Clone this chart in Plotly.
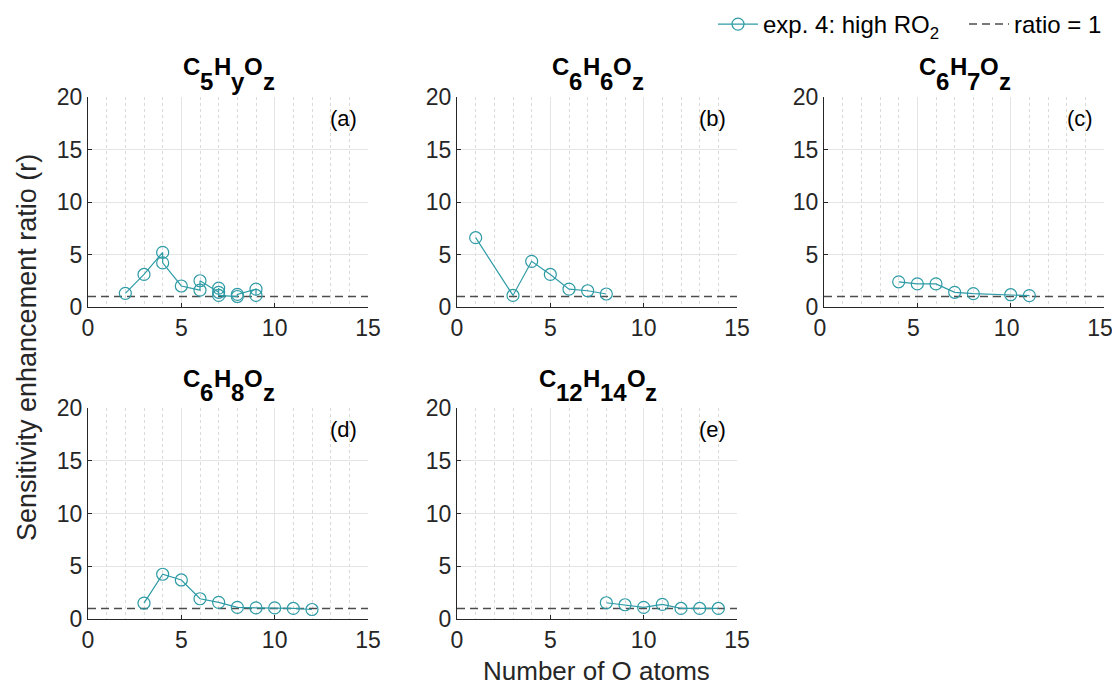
import plotly.graph_objects as go

# ---------------- data ----------------
title_parts = [("C", "5", "H", "y", "O", "z"), ("C", "6", "H", "6", "O", "z"),
               ("C", "6", "H", "7", "O", "z"), ("C", "6", "H", "8", "O", "z"),
               ("C", "12", "H", "14", "O", "z")]
panel_labels = ["(a)", "(b)", "(c)", "(d)", "(e)"]

a_x = [2, 3, 4, 4, 5, 6, 6, 7, 7, 7, 8, 8, 9, 9]
a_y = [1.3, 3.1, 5.2, 4.2, 2.0, 1.6, 2.5, 1.4, 1.8, 1.1, 1.0, 1.2, 1.7, 1.1]
b_x = [1, 3, 4, 5, 6, 7, 8]
b_y = [6.6, 1.1, 4.35, 3.1, 1.7, 1.55, 1.24]
c_x = [4, 5, 6, 7, 8, 10, 11]
c_y = [2.4, 2.2, 2.2, 1.4, 1.27, 1.17, 1.08]
d_x = [3, 4, 5, 6, 7, 8, 9, 10, 11, 12]
d_y = [1.5, 4.24, 3.7, 1.92, 1.57, 1.1, 1.05, 1.05, 1.0, 0.9]
e_x = [8, 9, 10, 11, 12, 13, 14]
e_y = [1.54, 1.35, 1.1, 1.38, 1.0, 1.0, 1.0]

ratio_x = [0, 15]
ratio_y = [1, 1]

x_ticks = [0, 5, 10, 15]
y_ticks = [0, 5, 10, 15, 20]

series = [(a_x, a_y), (b_x, b_y), (c_x, c_y), (d_x, d_y), (e_x, e_y)]

# ---------------- layout ----------------
OFF = 8                       # default page body margin
W, H = 1120 - OFF, 685 - OFF
TEAL = "#2e9ba6"
DARK = "#262626"
FONT = "Liberation Sans, Arial, sans-serif"
TSIZE = 24
BOLD_W = {"C": 0.722, "H": 0.722, "O": 0.778, "y": 0.556, "z": 0.5}


def sx(px):
    return (px - OFF) / W


def sy(py):
    return 1 - (py - OFF) / H


xdom_px = [(88, 368), (457, 737), (824, 1104), (88, 368), (457, 737)]
ydom_px = [(97, 307), (97, 307), (97, 307), (408, 619), (408, 619)]

fig = go.Figure()

for i, (xs, ys) in enumerate(series):
    n = "" if i == 0 else str(i + 1)
    xa, ya = "x" + n, "y" + n
    fig.add_trace(go.Scatter(
        x=ratio_x, y=ratio_y, mode="lines", xaxis=xa, yaxis=ya,
        line=dict(color="#4d4d4d", width=1.5, dash="8px,5px"),
        name="ratio = 1", showlegend=(i == 0), legendrank=2))
    fig.add_trace(go.Scatter(
        x=xs, y=ys, mode="lines+markers", xaxis=xa, yaxis=ya,
        line=dict(color=TEAL, width=1.2),
        marker=dict(symbol="circle-open", size=12, color=TEAL, line=dict(width=1.2)),
        name="exp. 4: high RO<sub>2</sub>", showlegend=(i == 0), legendrank=1))

    x0, x1 = xdom_px[i]
    y0, y1 = ydom_px[i]
    axis_common = dict(
        showline=True, linecolor=DARK, linewidth=1, mirror=False,
        ticks="inside", ticklen=4, tickcolor=DARK, zeroline=False,
        showgrid=True, gridcolor="#e4e4e4", gridwidth=1,
        tickfont=dict(size=23, color=DARK, family=FONT),
        ticklabeloverflow="allow",
    )
    fig.layout["xaxis" + n] = dict(
        axis_common, domain=[sx(x0), sx(x1)], anchor=ya, range=[0, 15],
        tickvals=x_ticks,
        ticklabelshift=(-4 if i == 2 else 0),
        minor=dict(tickvals=[v for v in range(1, 15) if v % 5 != 0], showgrid=True,
                   gridcolor="#dadada", griddash="dot", gridwidth=1, ticks=""),
    )
    fig.layout["yaxis" + n] = dict(
        axis_common, domain=[sy(y1), sy(y0)], anchor=xa, range=[0, 20],
        tickvals=y_ticks,
    )

    # title built from pieces so subscripts are full size and well lowered
    parts = title_parts[i]
    widths = []
    for k, p in enumerate(parts):
        if k % 2 == 0:
            widths.append(BOLD_W[p] * TSIZE)
        else:
            widths.append(sum(BOLD_W.get(ch, 0.556) for ch in p) * TSIZE)
    cur = (x0 + x1) / 2 - sum(widths) / 2
    for k, p in enumerate(parts):
        ymid = y0 - 30 if k % 2 == 0 else y0 - 16
        fig.add_annotation(
            text="<b>" + p + "</b>", x=sx(cur), y=sy(ymid),
            xref="paper", yref="paper", xanchor="left", yanchor="middle",
            showarrow=False, borderpad=0,
            font=dict(size=TSIZE, color="black", family=FONT))
        cur += widths[k]

    fig.add_annotation(
        text=panel_labels[i], x=sx(x1 - 9), y=sy(y0 + 21),
        xref="paper", yref="paper", xanchor="right", yanchor="middle",
        showarrow=False, font=dict(size=22, color="black", family=FONT))

fig.add_annotation(
    text="Sensitivity enhancement ratio (r)", x=sx(27), y=sy(348),
    xref="paper", yref="paper", textangle=-90, showarrow=False,
    xanchor="center", yanchor="middle", font=dict(size=27, color=DARK, family=FONT))
fig.add_annotation(
    text="Number of O atoms", x=sx(596), y=sy(671),
    xref="paper", yref="paper", showarrow=False, borderpad=0,
    xanchor="center", yanchor="middle", font=dict(size=26, color=DARK, family=FONT))

fig.update_layout(
    width=W, height=H, margin=dict(l=0, r=0, t=0, b=0, autoexpand=False),
    paper_bgcolor="white", plot_bgcolor="white",
    font=dict(family=FONT, color=DARK),
    legend=dict(orientation="h", x=sx(713), xanchor="left", y=sy(2), yanchor="top",
                font=dict(size=24, color="black", family=FONT),
                bgcolor="rgba(0,0,0,0)", itemwidth=40, tracegroupgap=0,
                entrywidth=196, entrywidthmode="pixels"),
)

fig.write_html("out.html")
